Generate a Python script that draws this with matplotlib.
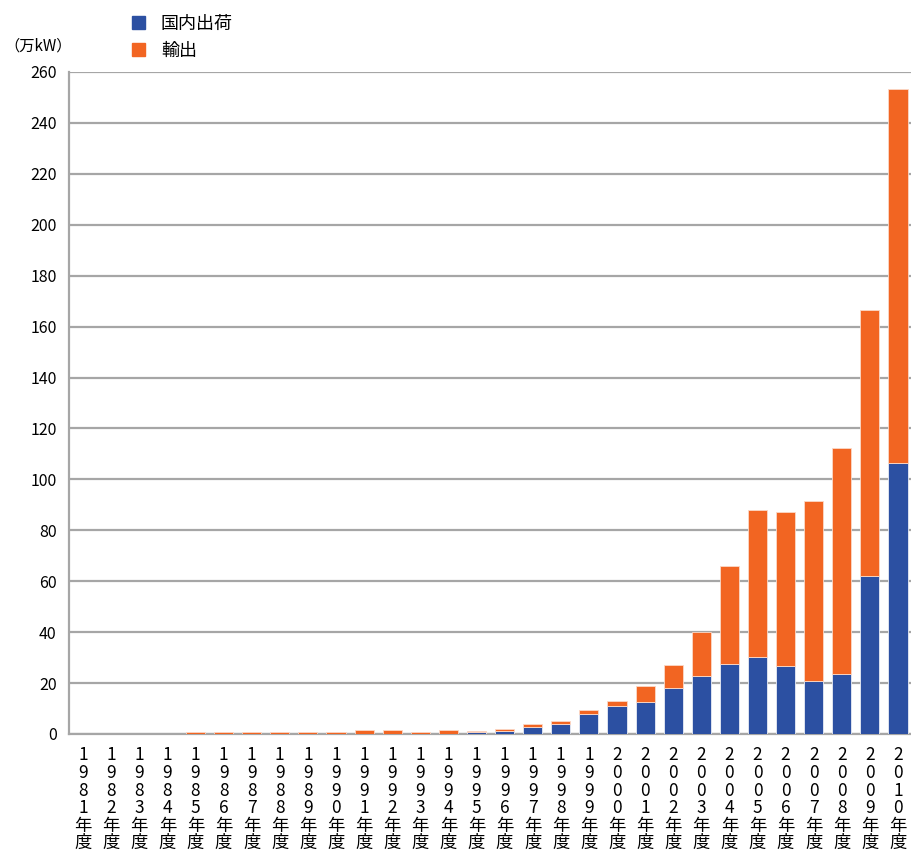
import numpy as np
import matplotlib.pyplot as plt
from matplotlib.patches import Patch

plt.rcParams['font.family'] = ['Noto Sans CJK JP', 'DejaVu Sans']

years = list(range(1981, 2011))
domestic = [0, 0, 0, 0, 0, 0, 0, 0, 0, 0, 0, 0, 0, 0, 0.7, 1.3, 2.7, 3.9, 7.7, 11.1,
            12.4, 18.1, 22.7, 27.3, 30.4, 26.7, 20.8, 23.5, 62.1, 106.4]
total = [0, 0, 0, 0, 0.8, 0.8, 0.8, 0.8, 0.8, 0.8, 1.4, 1.4, 0.9, 1.4, 1.3, 2.1, 4.1, 5.3, 9.3, 13.1,
         18.7, 27.2, 40.2, 66.0, 88.0, 87.2, 91.5, 112.3, 166.5, 253.3]
export = [t - d for t, d in zip(total, domestic)]
labels = ['\n'.join(str(y)) + '\n年\n度' for y in years]

blue = '#2C50A2'
orange = '#F26522'

fig = plt.figure(figsize=(9.12, 8.52), dpi=100)
ax = fig.add_axes([0.0757, 0.1385, 0.9243, 0.777])

x = np.arange(len(years))
ax.bar(x, domestic, width=0.68, color=blue, edgecolor='#E8ECF5', linewidth=0.6, zorder=3)
ax.bar(x, export, width=0.68, bottom=domestic, color=orange, edgecolor='#FBD9C8', linewidth=0.6, zorder=3)

ax.set_xlim(-0.5, len(years) - 0.5)
ax.set_ylim(0, 260)
ax.set_yticks(np.arange(0, 261, 20))
ax.yaxis.grid(True, color='#A6A6A6', linewidth=1.6, zorder=0)
ax.tick_params(axis='y', length=0, labelsize=11.5, pad=9)
ax.set_xticks(x)
ax.set_xticklabels(labels, fontsize=12.5, linespacing=0.97, va='top')
ax.tick_params(axis='x', length=0, pad=9)
for s in ['top', 'right']:
    ax.spines[s].set_visible(False)
for s in ['left', 'bottom']:
    ax.spines[s].set_color('#A6A6A6')
    ax.spines[s].set_linewidth(1.6)

fig.text(0.005, 0.946, '（万kW）', fontsize=11, ha='left', va='center')

handles = [Patch(color=blue, label='国内出荷'), Patch(color=orange, label='輸出')]
fig.legend(handles=handles, loc='upper left', bbox_to_anchor=(0.127, 1.002), frameon=False,
           fontsize=13, handlelength=0.7, handleheight=0.7, handletextpad=0.9, labelspacing=0.5)

fig.savefig('out.png', dpi=100)
